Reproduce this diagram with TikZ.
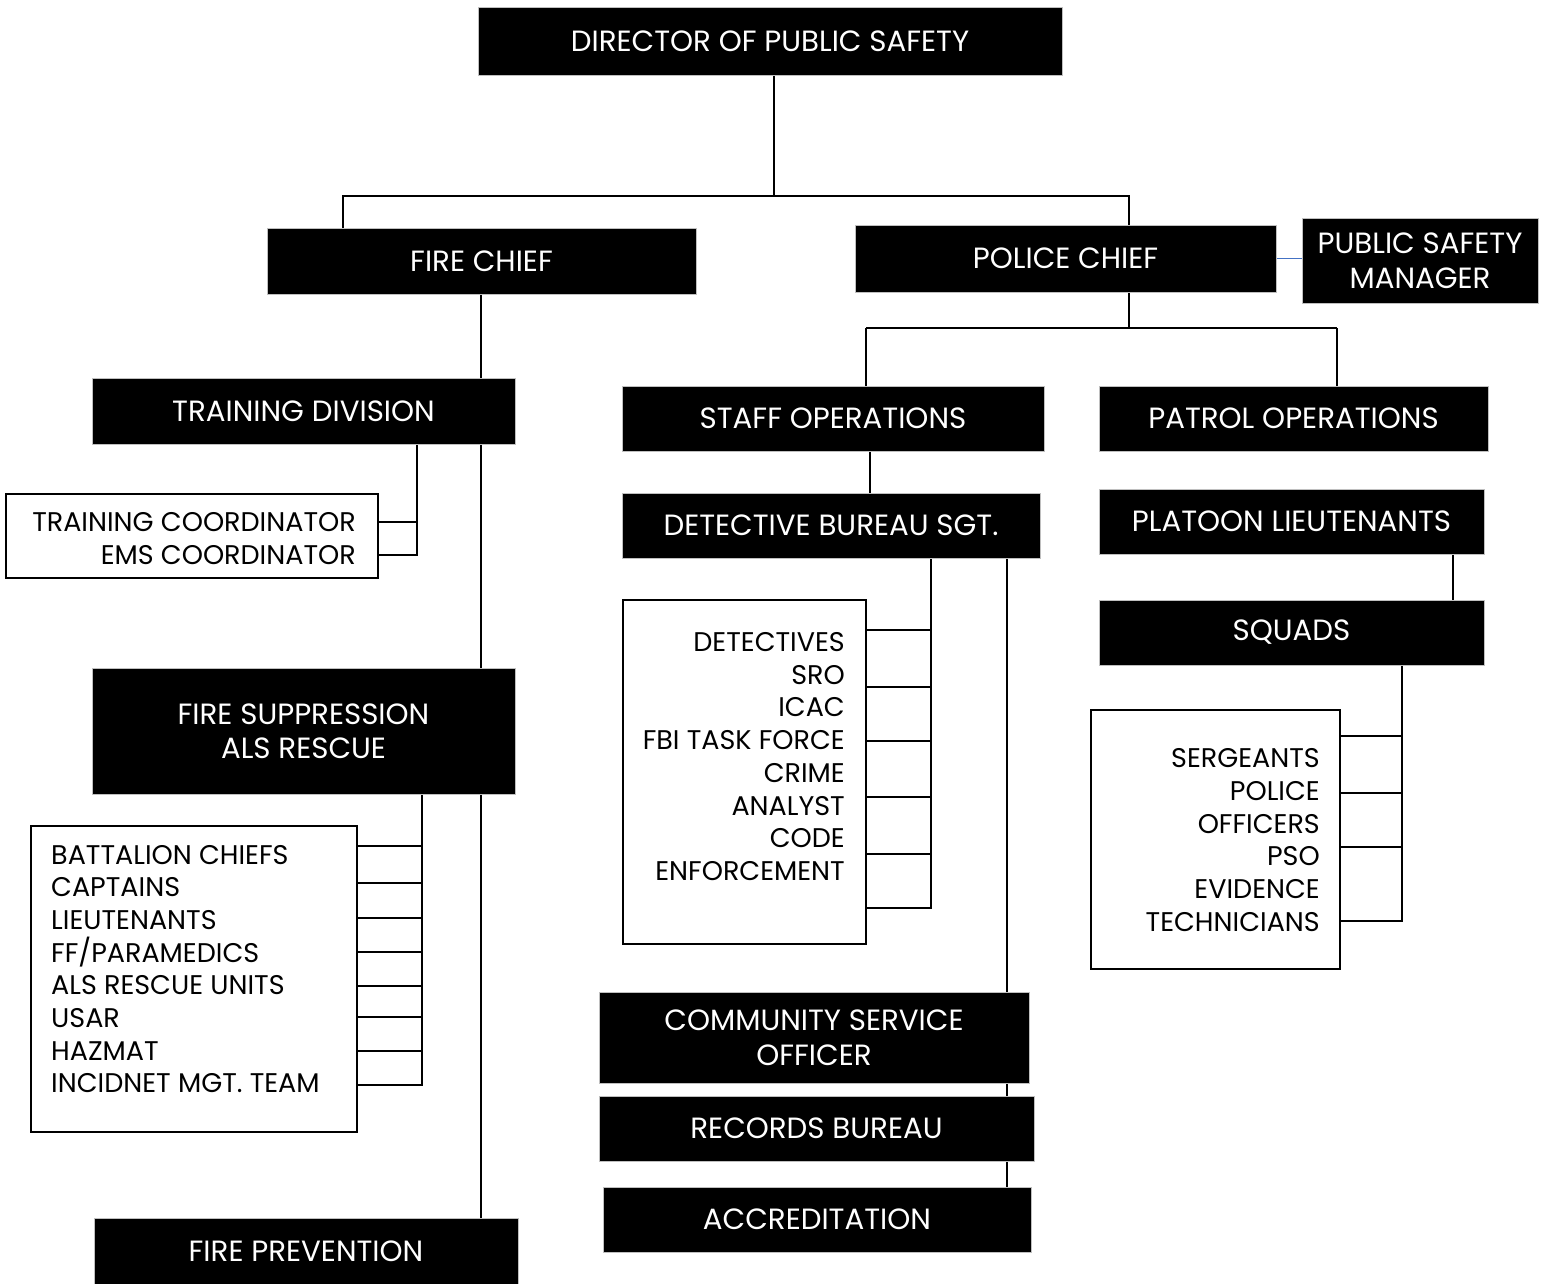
\documentclass[tikz,border=0pt]{standalone}
\usepackage{fontspec}
\setmainfont{Poppins}
\usetikzlibrary{backgrounds}
\newcommand\chartfs{\fontsize{29.3}{34.5}\selectfont}
\newcommand\listfs{\fontsize{27}{32.7}\selectfont}
\tikzset{
  blk/.style={fill=black, draw=black!25, line width=0.8pt, text=white, inner sep=0pt, font=\chartfs, align=center},
  wbox/.style={draw=black, line width=2pt, fill=white, inner sep=0pt},
  lst/.style={inner sep=0pt, font=\listfs, text=black},
  ln/.style={line width=2.5pt, draw=black},
  thn/.style={line width=1.6pt, draw=black},
  bln/.style={line width=1.4pt, draw={rgb,255:red,68;green,114;blue,196}},
}
\begin{document}
\begin{tikzpicture}[x=1pt,y=-1pt]
\useasboundingbox (0,0) rectangle (1546,1283);
% black boxes
\node[blk, minimum width=584pt, minimum height=68pt] (dir) at (770,41) {DIRECTOR OF PUBLIC SAFETY};
\node[blk, minimum width=429pt, minimum height=66pt] (fire) at (481.5,261) {FIRE CHIEF};
\node[blk, minimum width=421pt, minimum height=67pt] (police) at (1065.5,258.5) {POLICE CHIEF};
\node[blk, minimum width=236pt, minimum height=85pt] (psm) at (1420,260.5) {PUBLIC SAFETY\\MANAGER};
\node[blk, minimum width=423pt, minimum height=66pt] (train) at (303.5,411) {TRAINING DIVISION};
\node[blk, minimum width=423pt, minimum height=126pt] (supp) at (303.5,731) {FIRE SUPPRESSION\\ALS RESCUE};
\node[blk, minimum width=424pt, minimum height=66pt] (prev) at (306,1251) {FIRE PREVENTION};
\node[blk, minimum width=422pt, minimum height=65pt] (staff) at (833,418.5) {STAFF OPERATIONS};
\node[blk, minimum width=389pt, minimum height=65pt] (patrol) at (1293.5,418.5) {PATROL OPERATIONS};
\node[blk, minimum width=418pt, minimum height=65pt] (det) at (831,525.5) {DETECTIVE BUREAU SGT.};
\node[blk, minimum width=385pt, minimum height=65pt] (plat) at (1291.5,521.5) {PLATOON LIEUTENANTS};
\node[blk, minimum width=385pt, minimum height=65pt] (squads) at (1291.5,632.5) {SQUADS};
\node[blk, minimum width=430pt, minimum height=91pt] (cso) at (814,1037.5) {COMMUNITY SERVICE\\OFFICER};
\node[blk, minimum width=435pt, minimum height=65pt] (rec) at (816.5,1128.5) {RECORDS BUREAU};
\node[blk, minimum width=428pt, minimum height=65pt] (acc) at (817,1219.5) {ACCREDITATION};
% white boxes
\node[wbox, minimum width=372pt, minimum height=84pt] (tcbox) at (192,536) {};
\node[lst, align=right, anchor=east] (tctext) at (356,538.5) {TRAINING COORDINATOR\\EMS COORDINATOR};
\node[wbox, minimum width=326pt, minimum height=306pt] (batbox) at (194,979) {};
\node[lst, align=left, anchor=west] (battext) at (51,969) {BATTALION CHIEFS\\CAPTAINS\\LIEUTENANTS\\FF/PARAMEDICS\\ALS RESCUE UNITS\\USAR\\HAZMAT\\INCIDNET MGT. TEAM};
\node[wbox, minimum width=243pt, minimum height=344pt] (detbox) at (744.5,772) {};
\node[lst, align=right, anchor=east] (dettext) at (845,756.5) {DETECTIVES\\SRO\\ICAC\\FBI TASK FORCE\\CRIME\\ANALYST\\CODE\\ENFORCEMENT};
\node[wbox, line width=1.2pt, minimum width=249pt, minimum height=259pt] (sgtbox) at (1215.5,839.5) {};
\node[lst, align=right, anchor=east] (sgttext) at (1320,840) {SERGEANTS\\POLICE\\OFFICERS\\PSO\\EVIDENCE\\TECHNICIANS};
% junction coordinates
\coordinate (j1) at (774,196);
\coordinate (j2) at (343,196);
\coordinate (j3) at (1129,196);
\coordinate (p1) at (1129,328);
\coordinate (p2) at (866,328);
\coordinate (p3) at (1337,328);
\coordinate (tj) at (417,555);
\coordinate (sj) at (422,1085);
\coordinate (dj) at (931,908);
\coordinate (qj) at (1402,921);
\begin{scope}[on background layer]
\draw[ln] (dir.south -| j1) -- (j1);
\draw[ln] (fire.north -| j2) -- (j2) -- (j3) -- (police.north -| j3);
\draw[ln] (fire.south -| 481,0) -- (prev.north -| 481,0);
% training
\draw[ln] (train.south -| tj) -- (tj) -- (tcbox.east |- tj);
\draw[ln] (tcbox.east |- 0,522) -- (tj |- 0,522);
% suppression
\draw[ln] (supp.south -| sj) -- (sj) -- (batbox.east |- sj);
\foreach \yy in {846,883,918,952,986,1017,1051}
  \draw[ln] (batbox.east |- 0,\yy) -- (sj |- 0,\yy);
% police
\draw[ln] (police.south -| p1) -- (p1);
\draw[ln] (p2) -- (p3);
\draw[ln] (p2) -- (staff.north -| p2);
\draw[ln] (p3) -- (patrol.north -| p3);
\draw[bln] (police.east) -- (psm.west |- police.east);
\draw[ln] (staff.south -| 870,0) -- (det.north -| 870,0);
% detective
\draw[ln] (det.south -| dj) -- (dj) -- (detbox.east |- dj);
\foreach \yy in {630,687,741,797,854}
  \draw[ln] (detbox.east |- 0,\yy) -- (dj |- 0,\yy);
\draw[thn] (det.south -| 1007,0) -- (acc.north -| 1007,0);
% patrol
\draw[ln] (plat.south -| 1453,0) -- (squads.north -| 1453,0);
\draw[thn] (squads.south -| qj) -- (qj) -- (sgtbox.east |- qj);
\foreach \yy in {736,793,847}
  \draw[thn] (sgtbox.east |- 0,\yy) -- (qj |- 0,\yy);
\end{scope}
\end{tikzpicture}
\end{document}
